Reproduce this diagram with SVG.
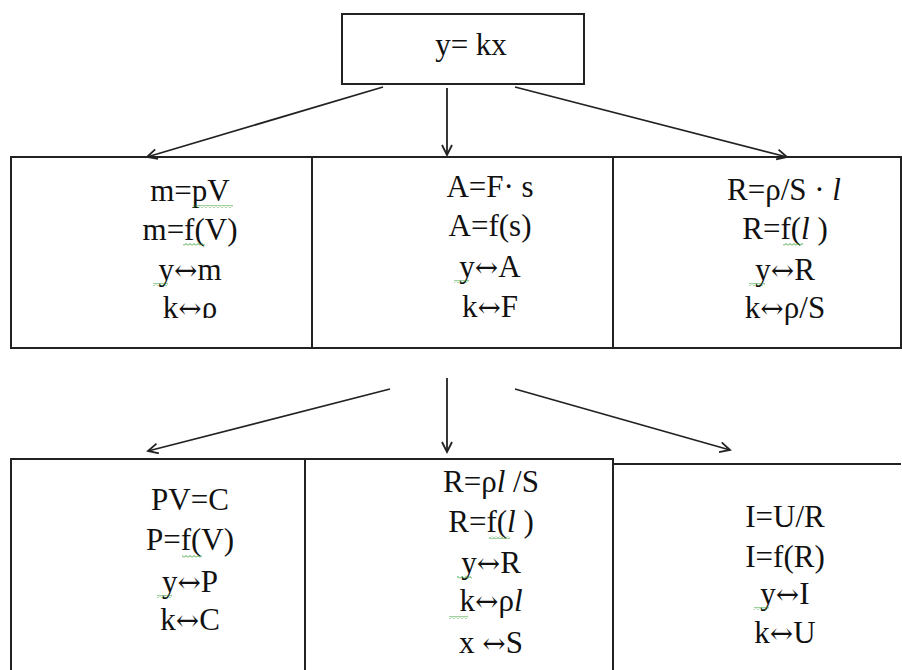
<svg xmlns="http://www.w3.org/2000/svg" width="902" height="670" viewBox="0 0 902 670">
<style>
.box{fill:#fff;stroke:#222;stroke-width:2}
text{font-family:'Liberation Serif','Times New Roman',serif;font-size:31px;fill:#111;text-anchor:middle}
.i{font-style:italic}
.a{font-family:'DejaVu Serif',serif;font-size:28px}
.c{stroke:#222;stroke-width:1.8;fill:none}
.sq{fill:url(#sq)}
</style>
<defs>
<marker id="ah" markerUnits="userSpaceOnUse" markerWidth="14" markerHeight="14" refX="11" refY="6" orient="auto">
<path d="M1,1 L11,6 L1,11" fill="none" stroke="#222" stroke-width="1.8"/>
</marker>
<pattern id="sq" patternUnits="userSpaceOnUse" width="4" height="3">
<path d="M0,2.5 L2,0.5 L4,2.5" fill="none" stroke="#2a9a2a" stroke-width="0.9"/>
</pattern>
<clipPath id="clip1"><rect x="11" y="157" width="301" height="161"/></clipPath>
</defs>
<rect width="902" height="670" fill="#fff"/>

<g id="top">
<rect class="box" x="342" y="14" width="242" height="70"/>
<text x="471" y="55">y= kx</text>
</g>

<g id="r1-left">
<rect class="box" x="11" y="157" width="301" height="191"/>
<text x="190" y="201">m=pV</text>
<text x="190" y="240">m=f(V)</text>
<text x="190" y="280">y<tspan class="a">↔</tspan>m</text>
<text x="190" y="318" clip-path="url(#clip1)">k<tspan class="a">↔</tspan>ρ</text>
<rect class="sq" x="193" y="205" width="40" height="3"/>
<rect class="sq" x="183" y="243" width="22" height="3"/>
<rect class="sq" x="153" y="283" width="15" height="3"/>
</g>

<g id="r1-mid">
<rect class="box" x="312" y="157" width="301" height="191"/>
<text x="490" y="197">A=F· s</text>
<text x="490" y="236">A=f(s)</text>
<text x="490" y="277">y<tspan class="a">↔</tspan>A</text>
<text x="490" y="317">k<tspan class="a">↔</tspan>F</text>
<rect class="sq" x="454" y="280" width="15" height="3"/>
</g>

<g id="r1-right">
<rect class="box" x="613" y="157" width="288" height="191"/>
<text x="784" y="200">R=ρ/S ·  <tspan class="i">l</tspan></text>
<text x="785" y="239">R=f(<tspan class="i">l</tspan> )</text>
<text x="785" y="280">y<tspan class="a">↔</tspan>R</text>
<text x="785" y="318">k<tspan class="a">↔</tspan>ρ/S</text>
<rect class="sq" x="783" y="243" width="20" height="3"/>
<rect class="sq" x="749" y="283" width="16" height="3"/>
</g>

<g id="r2-left">
<path class="box" d="M11,670 V459 H305 V670"/>
<text x="190" y="510">PV=C</text>
<text x="190" y="550">P=f(V)</text>
<text x="190" y="592">y<tspan class="a">↔</tspan>P</text>
<text x="190" y="630">k<tspan class="a">↔</tspan>C</text>
<rect class="sq" x="182" y="555" width="20" height="3"/>
<rect class="sq" x="157" y="595" width="15" height="3"/>
</g>

<g id="r2-mid">
<path class="box" d="M305,670 V459 H613 V670"/>
<text x="491" y="492">R=ρ<tspan class="i">l</tspan> /S</text>
<text x="491" y="532">R=f(<tspan class="i">l</tspan> )</text>
<text x="491" y="573">y<tspan class="a">↔</tspan>R</text>
<text x="491" y="611">k<tspan class="a">↔</tspan>ρ<tspan class="i">l</tspan></text>
<text x="491" y="653">x <tspan class="a">↔</tspan>S</text>
<rect class="sq" x="489" y="536" width="21" height="3"/>
<rect class="sq" x="457" y="576" width="15" height="3"/>
<rect class="sq" x="449" y="616" width="19" height="3"/>
</g>

<g id="r2-right">
<path class="box" d="M613,670 V464 H901"/>
<text x="785" y="527">I=U/R</text>
<text x="785" y="567">I=f(R)</text>
<text x="785" y="604">y<tspan class="a">↔</tspan>I</text>
<text x="785" y="643">k<tspan class="a">↔</tspan>U</text>
<rect class="sq" x="754" y="607" width="15" height="3"/>
</g>

<g id="connectors">
<line class="c" x1="383" y1="87" x2="147" y2="157" marker-end="url(#ah)"/>
<line class="c" x1="447" y1="88" x2="447" y2="155" marker-end="url(#ah)"/>
<line class="c" x1="515" y1="87" x2="787" y2="157" marker-end="url(#ah)"/>
<line class="c" x1="390" y1="389" x2="148" y2="451" marker-end="url(#ah)"/>
<line class="c" x1="447" y1="378" x2="447" y2="452" marker-end="url(#ah)"/>
<line class="c" x1="515" y1="389" x2="730" y2="450" marker-end="url(#ah)"/>
</g>
</svg>
